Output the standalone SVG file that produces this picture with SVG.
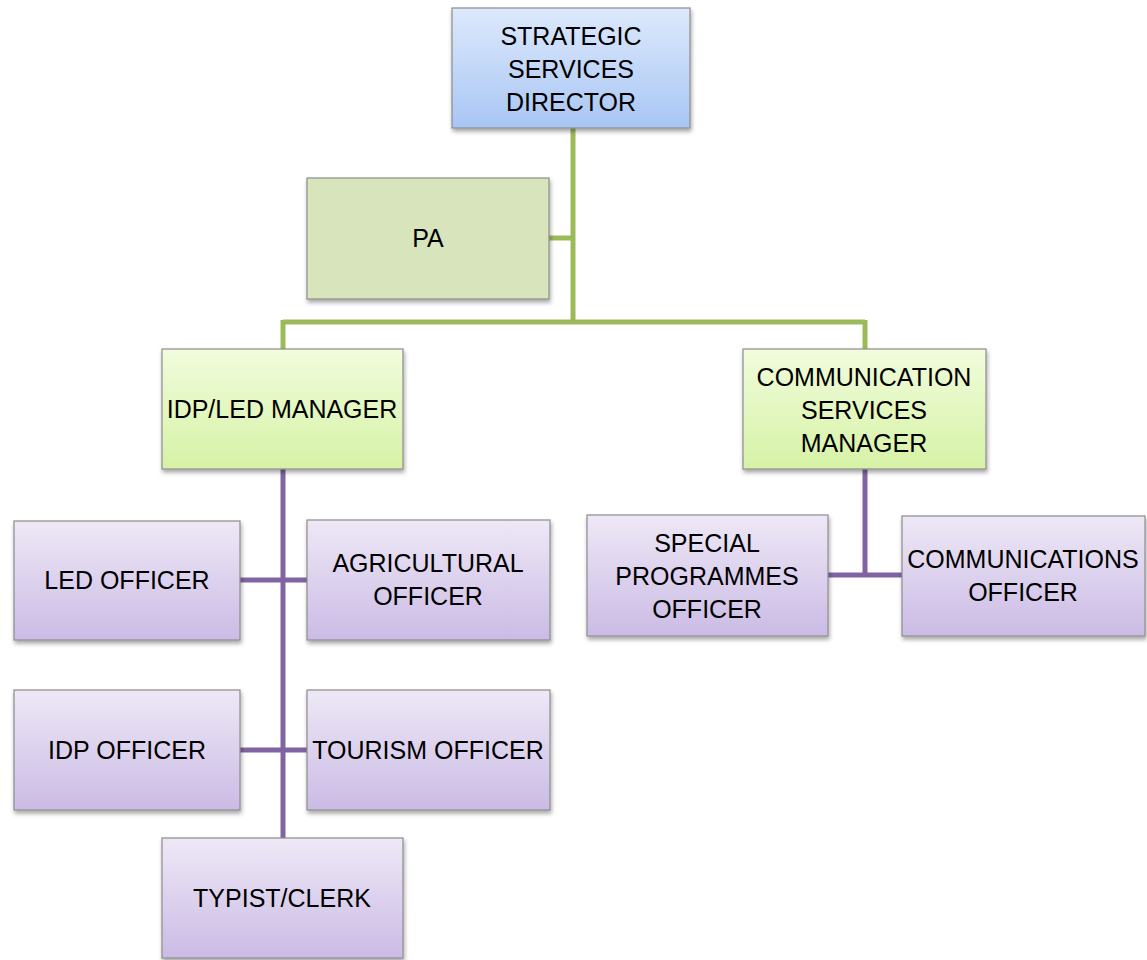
<svg xmlns="http://www.w3.org/2000/svg" width="1147" height="960" viewBox="0 0 1147 960">
<defs>
<linearGradient id="gBlue" x1="0" y1="0" x2="0" y2="1"><stop offset="0" stop-color="#dde9fc"/><stop offset="1" stop-color="#a8c6f4"/></linearGradient>
<linearGradient id="gGreen" x1="0" y1="0" x2="0" y2="1"><stop offset="0" stop-color="#f1fcdc"/><stop offset="1" stop-color="#d6f2a6"/></linearGradient>
<linearGradient id="gPurple" x1="0" y1="0" x2="0" y2="1"><stop offset="0" stop-color="#eee8f6"/><stop offset="1" stop-color="#cbbbe5"/></linearGradient>
<filter id="sh" x="-10%" y="-10%" width="125%" height="130%"><feDropShadow dx="1" dy="3" stdDeviation="2" flood-color="#000" flood-opacity="0.35"/></filter>
<style>
.box{stroke:#8c8c8c;stroke-width:1.2;filter:url(#sh)}
.blue{fill:url(#gBlue)}
.green{fill:url(#gGreen)}
.pa{fill:#d7e4bc}
.purple{fill:url(#gPurple)}
.t{font-family:"Liberation Sans",Arial,sans-serif;font-size:25px;fill:#000;text-anchor:middle}
.cg{stroke:#9bbb59;stroke-width:5;fill:none}
.cp{stroke:#8064a2;stroke-width:5;fill:none}
</style>
</defs>
<rect width="1147" height="960" fill="#fff"/>
<g id="connectors">
<path class="cg" d="M573 128V322M549 238H573M283 322H865M283 320V349M865 320V349"/>
<path class="cp" d="M283 469V838M240 580H307M240 750H307M865 469V575M828 575H902"/>
</g>
<g id="director"><rect class="box blue" x="452" y="8" width="238" height="120"/>
<text class="t" x="571" y="45">STRATEGIC</text><text class="t" x="571" y="78">SERVICES</text><text class="t" x="571" y="111">DIRECTOR</text></g>
<g id="pa"><rect class="box pa" x="307" y="178" width="242" height="121"/>
<text class="t" x="428" y="247">PA</text></g>
<g id="idpled"><rect class="box green" x="162" y="349" width="241" height="120"/>
<text class="t" x="282" y="418">IDP/LED MANAGER</text></g>
<g id="commmgr"><rect class="box green" x="743" y="349" width="243" height="120"/>
<text class="t" x="864" y="386">COMMUNICATION</text><text class="t" x="864" y="419">SERVICES</text><text class="t" x="864" y="452">MANAGER</text></g>
<g id="ledofficer"><rect class="box purple" x="14" y="521" width="226" height="119"/>
<text class="t" x="127" y="589">LED OFFICER</text></g>
<g id="agri"><rect class="box purple" x="307" y="520" width="243" height="120"/>
<text class="t" x="428" y="572">AGRICULTURAL</text><text class="t" x="428" y="605">OFFICER</text></g>
<g id="idpofficer"><rect class="box purple" x="14" y="690" width="226" height="120"/>
<text class="t" x="127" y="759">IDP OFFICER</text></g>
<g id="tourism"><rect class="box purple" x="307" y="690" width="243" height="120"/>
<text class="t" x="428" y="759">TOURISM OFFICER</text></g>
<g id="typist"><rect class="box purple" x="162" y="838" width="241" height="120"/>
<text class="t" x="282" y="907">TYPIST/CLERK</text></g>
<g id="special"><rect class="box purple" x="587" y="515" width="241" height="121"/>
<text class="t" x="707" y="552">SPECIAL</text><text class="t" x="707" y="585">PROGRAMMES</text><text class="t" x="707" y="618">OFFICER</text></g>
<g id="commofficer"><rect class="box purple" x="902" y="516" width="243" height="120"/>
<text class="t" x="1023" y="568">COMMUNICATIONS</text><text class="t" x="1023" y="601">OFFICER</text></g>
</svg>
